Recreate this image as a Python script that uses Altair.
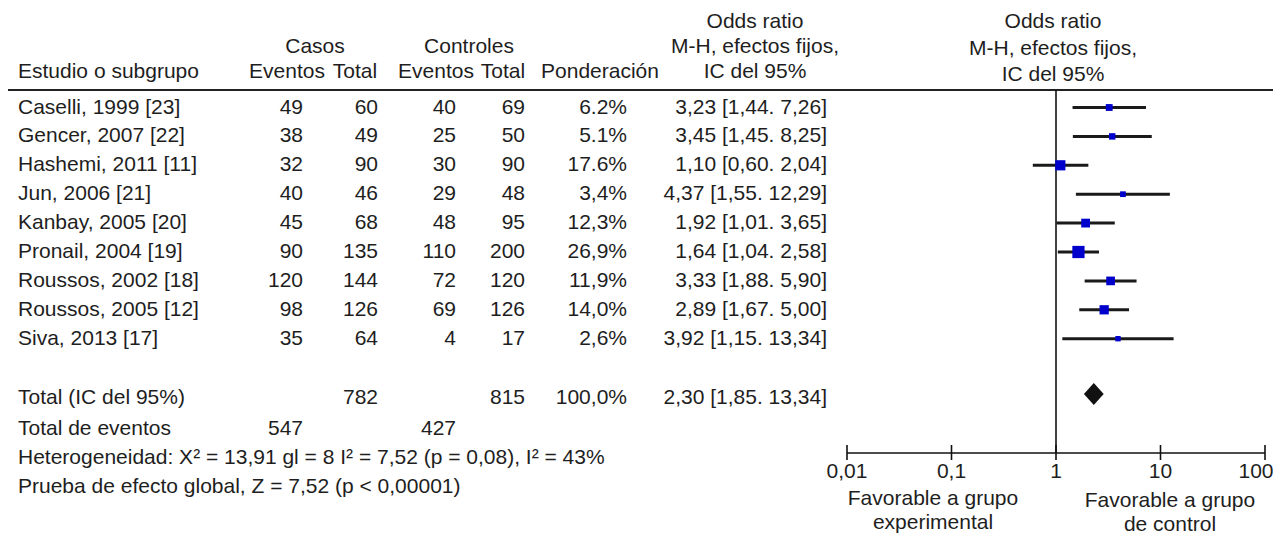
import altair as alt
import pandas as pd

# ---------------- data ----------------
studies = ["Caselli, 1999 [23]", "Gencer, 2007 [22]", "Hashemi, 2011 [11]",
           "Jun, 2006 [21]", "Kanbay, 2005 [20]", "Pronail, 2004 [19]",
           "Roussos, 2002 [18]", "Roussos, 2005 [12]", "Siva, 2013 [17]"]
casos_eventos = [49, 38, 32, 40, 45, 90, 120, 98, 35]
casos_total = [60, 49, 90, 46, 68, 135, 144, 126, 64]
ctrl_eventos = [40, 25, 30, 29, 48, 110, 72, 69, 4]
ctrl_total = [69, 50, 90, 48, 95, 200, 120, 126, 17]
weights = [6.2, 5.1, 17.6, 3.4, 12.3, 26.9, 11.9, 14.0, 2.6]
weight_labels = ["6.2%", "5.1%", "17.6%", "3,4%", "12,3%", "26,9%", "11,9%", "14,0%", "2,6%"]
odds = [3.23, 3.45, 1.10, 4.37, 1.92, 1.64, 3.33, 2.89, 3.92]
ci_low = [1.44, 1.45, 0.60, 1.55, 1.01, 1.04, 1.88, 1.67, 1.15]
ci_high = [7.26, 8.25, 2.04, 12.29, 3.65, 2.58, 5.90, 5.00, 13.34]

total_casos = 782
total_ctrl = 815
total_weight_label = "100,0%"
total_or_label = "2,30 [1,85. 13,34]"
total_or = 2.30
total_low = 1.85
total_high = 2.86
events_casos = 547
events_ctrl = 427
heterogeneity = "Heterogeneidad: X\u00b2 = 13,91 gl = 8 I\u00b2 = 7,52 (p = 0,08), I\u00b2 = 43%"
overall_test = "Prueba de efecto global, Z = 7,52 (p < 0,00001)"
axis_ticks = [0.01, 0.1, 1, 10, 100]
axis_labels = ["0,01", "0,1", "1", "10", "100"]


def fmt(v):
    return f"{v:.2f}".replace(".", ",")


or_labels = [f"{fmt(o)} [{fmt(l)}. {fmt(h)}]" for o, l, h in zip(odds, ci_low, ci_high)]

# ---------------- layout ----------------
W, H = 1265, 526
ROW0, ROWH = 107.5, 28.9          # page y of first study row, row pitch


def row(page_y):
    return (page_y - ROW0) / ROWH


R0, R1 = row(8), row(8 + H)
ys = alt.Scale(domain=[R0, R1], range=[0, H], zero=False, nice=False)
xs_tab = alt.Scale(domain=[8, 8 + W], range=[0, W], zero=False, nice=False)
xs_log = alt.Scale(type="log", domain=[0.01, 100], range=[839, 1257], nice=False)

FONT = "Liberation Sans"
FS = 21
TXT = "#1e1e1e"

# column anchors (page x)
X_NAME = 18
X_CE, X_CT, X_KE, X_KT, X_W, X_OR = 303, 378, 456, 525, 627, 827   # right edges
H_CE, H_CT, H_KE, H_KT, H_W, H_OR = 287, 355, 436, 503, 600, 755   # header centers
H_CASOS, H_CTRL, H_RIGHT = 315, 469, 1053
FAV_L, FAV_R = 933, 1170

n = len(studies)

left_rows = [(s, X_NAME, i) for i, s in enumerate(studies)]
left_rows += [("Estudio o subgrupo", X_NAME, row(72)),
              ("Total (IC del 95%)", X_NAME, row(398)),
              ("Total de eventos", X_NAME, row(429)),
              (heterogeneity, X_NAME, row(458)),
              (overall_test, X_NAME, row(487))]
left_df = pd.DataFrame(left_rows, columns=["txt", "x", "r"])

right_rows = []
for i in range(n):
    right_rows += [(str(casos_eventos[i]), X_CE, i), (str(casos_total[i]), X_CT, i),
                   (str(ctrl_eventos[i]), X_KE, i), (str(ctrl_total[i]), X_KT, i),
                   (weight_labels[i], X_W, i), (or_labels[i], X_OR, i)]
right_rows += [(str(total_casos), X_CT, row(398)), (str(total_ctrl), X_KT, row(398)),
               (total_weight_label, X_W, row(398)), (total_or_label, X_OR, row(398)),
               (str(events_casos), X_CE, row(429)), (str(events_ctrl), X_KE, row(429))]
right_df = pd.DataFrame(right_rows, columns=["txt", "x", "r"])

center_rows = [("Odds ratio", H_OR, row(21.5)), ("M-H, efectos fijos,", H_OR, row(47)),
               ("IC del 95%", H_OR, row(72)),
               ("Casos", H_CASOS, row(47)), ("Controles", H_CTRL, row(47)),
               ("Eventos", H_CE, row(72)), ("Total", H_CT, row(72)),
               ("Eventos", H_KE, row(72)), ("Total", H_KT, row(72)),
               ("Ponderación", H_W, row(72)),
               ("Odds ratio", H_RIGHT, row(22)), ("M-H, efectos fijos,", H_RIGHT, row(48.5)),
               ("IC del 95%", H_RIGHT, row(75)),
               ("Favorable a grupo", FAV_L, row(499)), ("experimental", FAV_L, row(523)),
               ("Favorable a grupo", FAV_R, row(501)), ("de control", FAV_R, row(525))]
center_df = pd.DataFrame(center_rows, columns=["txt", "x", "r"])


def text_layer(df, align):
    return alt.Chart(df).mark_text(align=align, baseline="middle", font=FONT,
                                   fontSize=FS, color=TXT).encode(
        x=alt.X("x:Q", scale=xs_tab, axis=None),
        y=alt.Y("r:Q", scale=ys, axis=None),
        text="txt:N")


left_layer = text_layer(left_df, "left")
right_layer = text_layer(right_df, "right")
center_layer = text_layer(center_df, "center")

# header separator line
header_line = alt.Chart(pd.DataFrame({"a": [8], "b": [8 + W], "r": [row(90)]})).mark_rule(
    color="#222", strokeWidth=2).encode(
    x=alt.X("a:Q", scale=xs_tab, axis=None), x2="b:Q",
    y=alt.Y("r:Q", scale=ys, axis=None))

# forest plot
forest_df = pd.DataFrame({"r": list(range(n)), "or": odds, "lo": ci_low,
                          "hi": ci_high, "w": weights})
ci_rules = alt.Chart(forest_df).mark_rule(color="#1a1a1a", strokeWidth=3).encode(
    x=alt.X("lo:Q", scale=xs_log, axis=None), x2="hi:Q",
    y=alt.Y("r:Q", scale=ys, axis=None))
squares = alt.Chart(forest_df).mark_square(color="#0000CC", opacity=1, strokeWidth=0).encode(
    x=alt.X("or:Q", scale=xs_log, axis=None),
    y=alt.Y("r:Q", scale=ys, axis=None),
    size=alt.Size("w:Q", scale=alt.Scale(domain=[0, 26.9], range=[16, 150]), legend=None))

AXIS_R = row(453)
null_line = alt.Chart(pd.DataFrame({"x": [1], "r1": [row(90)], "r2": [AXIS_R]})).mark_rule(
    color="#111", strokeWidth=1.6).encode(
    x=alt.X("x:Q", scale=xs_log, axis=None),
    y=alt.Y("r1:Q", scale=ys, axis=None), y2="r2:Q")

axis_line = alt.Chart(pd.DataFrame({"a": [axis_ticks[0]], "b": [axis_ticks[-1]], "r": [AXIS_R]})).mark_rule(
    color="#111", strokeWidth=1.6).encode(
    x=alt.X("a:Q", scale=xs_log, axis=None), x2="b:Q",
    y=alt.Y("r:Q", scale=ys, axis=None))

tick_df = pd.DataFrame({"t": axis_ticks, "lab": axis_labels,
                        "r1": [row(445)] * 5, "r2": [row(460)] * 5, "rl": [row(472)] * 5})
ticks = alt.Chart(tick_df).mark_rule(color="#111", strokeWidth=1.6).encode(
    x=alt.X("t:Q", scale=xs_log, axis=None),
    y=alt.Y("r1:Q", scale=ys, axis=None), y2="r2:Q")


def tick_text(df, dx):
    return alt.Chart(df).mark_text(align="center", baseline="middle", font=FONT,
                                   fontSize=FS, color=TXT, dx=dx).encode(
        x=alt.X("t:Q", scale=xs_log, axis=None),
        y=alt.Y("rl:Q", scale=ys, axis=None),
        text="lab:N")


# the last label sits at the page edge: nudge it inward so it stays whole
tick_labels = tick_text(tick_df.iloc[:-1], 0)
tick_label_last = tick_text(tick_df.iloc[-1:], -9)

# pooled estimate diamond: area from CI low -> estimate -> CI high
DR = row(394)
HALF = 11 / ROWH
diamond_df = pd.DataFrame({"x": [total_low, total_or, total_high],
                           "top": [DR, DR - HALF, DR], "bot": [DR, DR + HALF, DR]})
diamond = alt.Chart(diamond_df).mark_area(color="#111", opacity=1).encode(
    x=alt.X("x:Q", scale=xs_log, axis=None),
    y=alt.Y("top:Q", scale=ys, axis=None),
    y2="bot:Q")

chart = alt.layer(
    header_line, left_layer, right_layer, center_layer,
    null_line, axis_line, ticks, tick_labels, tick_label_last, ci_rules, squares, diamond
).resolve_scale(x="independent", size="independent").properties(
    width=W, height=H, padding=0,
    autosize=alt.AutoSizeParams(type="none"),
    background="white"
).configure_view(stroke=None)

chart.save("out.html", embed_options={"renderer": "svg", "actions": False})
